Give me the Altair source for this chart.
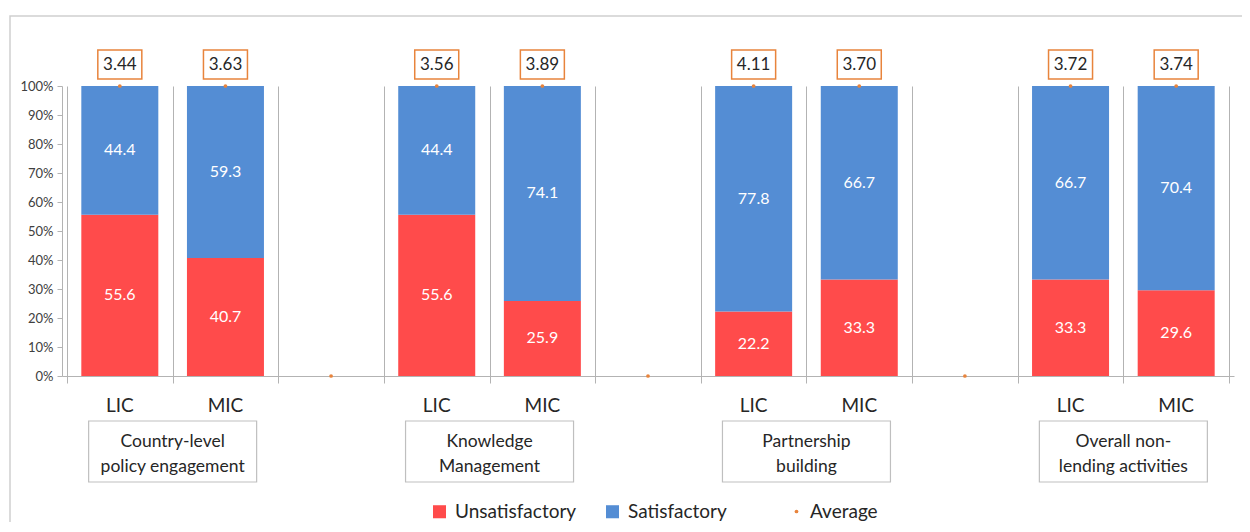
import altair as alt
import pandas as pd

# ---------------- data ----------------
groups = ["Country-level\npolicy engagement", "Knowledge\nManagement",
          "Partnership\nbuilding", "Overall non-\nlending activities"]
income = ["LIC", "MIC"]
unsat = [55.6, 40.7, 55.6, 25.9, 22.2, 33.3, 33.3, 29.6]
sat = [44.4, 59.3, 44.4, 74.1, 77.8, 66.7, 66.7, 70.4]
avg = [3.44, 3.63, 3.56, 3.89, 4.11, 3.70, 3.72, 3.74]
y_ticks = [0, 10, 20, 30, 40, 50, 60, 70, 80, 90, 100]

# ---------------- style ----------------
RED = "#FF4B4B"
BLUE = "#548DD4"
ORANGE = "#E8843C"
FONT = "Lato"
TXT = "#262626"
GRID = "#b3b3b3"
W, H = 1172, 290
SLOTS = 11

bar_rows, avg_rows, inc_rows, grp_rows = [], [], [], []
for g, gname in enumerate(groups):
    grp_rows.append(dict(gc=3 * g + 1, label=gname))
    for i, inc in enumerate(income):
        k = 2 * g + i
        c = 3 * g + i + 0.5
        bar_rows.append(dict(center=c, status="Unsatisfactory", value=unsat[k], ord=0,
                             mid=unsat[k] / 2))
        bar_rows.append(dict(center=c, status="Satisfactory", value=sat[k], ord=1,
                             mid=unsat[k] + sat[k] / 2))
        avg_rows.append(dict(center=c, yv=unsat[k] + sat[k], label=f"{avg[k]:.2f}",
                             series="Average"))
        inc_rows.append(dict(center=c, income=inc))
    if g < len(groups) - 1:
        # empty separator slot: average series sits at zero
        avg_rows.append(dict(center=3 * g + 2.5, yv=0, label="", series="Average"))

bars_df = pd.DataFrame(bar_rows)
avg_df = pd.DataFrame(avg_rows)
inc_df = pd.DataFrame(inc_rows)
grp_df = pd.DataFrame(grp_rows)

xscale = alt.Scale(domain=[0, SLOTS], nice=False, zero=False)
yscale = alt.Scale(domain=[0, 100], nice=False)

X_AXIS = alt.Axis(values=list(range(SLOTS + 1)), labels=False, title=None,
                  grid=True, gridColor=GRID, gridWidth=1, tickSize=7,
                  tickColor=GRID, domainColor=GRID)
Y_AXIS = alt.Axis(values=y_ticks, labelExpr="datum.value + '%'", title=None,
                  grid=False, tickSize=5, tickColor=GRID, domainColor=GRID,
                  labelFont=FONT, labelFontSize=13, labelColor="#404040",
                  labelPadding=4, labelOverlap=False)


def X(field):
    return alt.X(field, scale=xscale, axis=X_AXIS)


def Y(field, **kw):
    return alt.Y(field, scale=yscale, axis=Y_AXIS, **kw)


frame = alt.Chart(pd.DataFrame({"a": [0]})).mark_rect(
    fillOpacity=0, stroke="#cfcfcf", strokeWidth=1.5
).encode(x=alt.value(-52), x2=alt.value(W + 40), y=alt.value(-70), y2=alt.value(H + 250))

bars = alt.Chart(bars_df).mark_bar(size=77).encode(
    x=X("center:Q"),
    y=Y("value:Q", stack="zero"),
    color=alt.Color("status:N",
                    scale=alt.Scale(domain=["Unsatisfactory", "Satisfactory"],
                                    range=[RED, BLUE]),
                    legend=alt.Legend(orient="none", legendX=368, legendY=416,
                                      direction="horizontal", title=None,
                                      symbolType="square", symbolSize=170,
                                      symbolStrokeWidth=0, labelFont=FONT,
                                      labelFontSize=19, labelColor=TXT,
                                      columnPadding=26, labelOffset=6, padding=0)),
    order=alt.Order("ord:Q"),
)

bar_text = alt.Chart(bars_df).mark_text(
    color="white", font=FONT, fontSize=16, baseline="middle"
).encode(
    x=X("center:Q"),
    y=Y("mid:Q"),
    text=alt.Text("value:Q", format=".1f"),
)

avg_pts = alt.Chart(avg_df).mark_point(
    filled=True, size=14, color=ORANGE, opacity=1
).encode(
    x=X("center:Q"),
    y=Y("yv:Q"),
    shape=alt.Shape("series:N", scale=alt.Scale(domain=["Average"], range=["circle"]),
                    legend=alt.Legend(orient="none", legendX=725, legendY=416,
                                      title=None, symbolSize=14,
                                      symbolFillColor=ORANGE, symbolStrokeColor=ORANGE,
                                      symbolOpacity=1, labelFont=FONT,
                                      labelFontSize=19, labelColor=TXT,
                                      labelOffset=4, padding=0)),
)

avg_box = alt.Chart(avg_df).transform_filter("datum.label != ''").mark_rect(
    fill="white", stroke=ORANGE, strokeWidth=1.5, xOffset=-22, x2Offset=22
).encode(
    x=X("center:Q"), x2="center:Q",
    y=alt.value(-36), y2=alt.value(-7),
)

avg_text = alt.Chart(avg_df).transform_filter("datum.label != ''").mark_text(
    font=FONT, fontSize=17, color=TXT, baseline="middle"
).encode(
    x=X("center:Q"), y=alt.value(-21), text="label:N",
)

inc_text = alt.Chart(inc_df).mark_text(
    font=FONT, fontSize=19, color=TXT, baseline="middle"
).encode(
    x=X("center:Q"), y=alt.value(320), text="income:N",
)

grp_box = alt.Chart(grp_df).mark_rect(
    fill="white", stroke="#bfbfbf", strokeWidth=1.2, xOffset=-84, x2Offset=84
).encode(
    x=X("gc:Q"), x2="gc:Q",
    y=alt.value(335), y2=alt.value(396),
)

grp_text = alt.Chart(grp_df).mark_text(
    font=FONT, fontSize=17.5, color=TXT, baseline="middle", lineBreak="\n", lineHeight=25
).encode(
    x=X("gc:Q"), y=alt.value(356), text="label:N",
)

chart = alt.layer(
    frame, bars, bar_text, avg_pts, avg_box, avg_text, inc_text, grp_box, grp_text
).properties(
    width=W, height=H,
    autosize=alt.AutoSizeParams(type="none"),
    padding={"left": 54, "top": 78, "right": 8, "bottom": 146},
    background="white",
).configure_view(stroke=None)

chart.save("out.html", embed_options={"renderer": "svg", "actions": False})
